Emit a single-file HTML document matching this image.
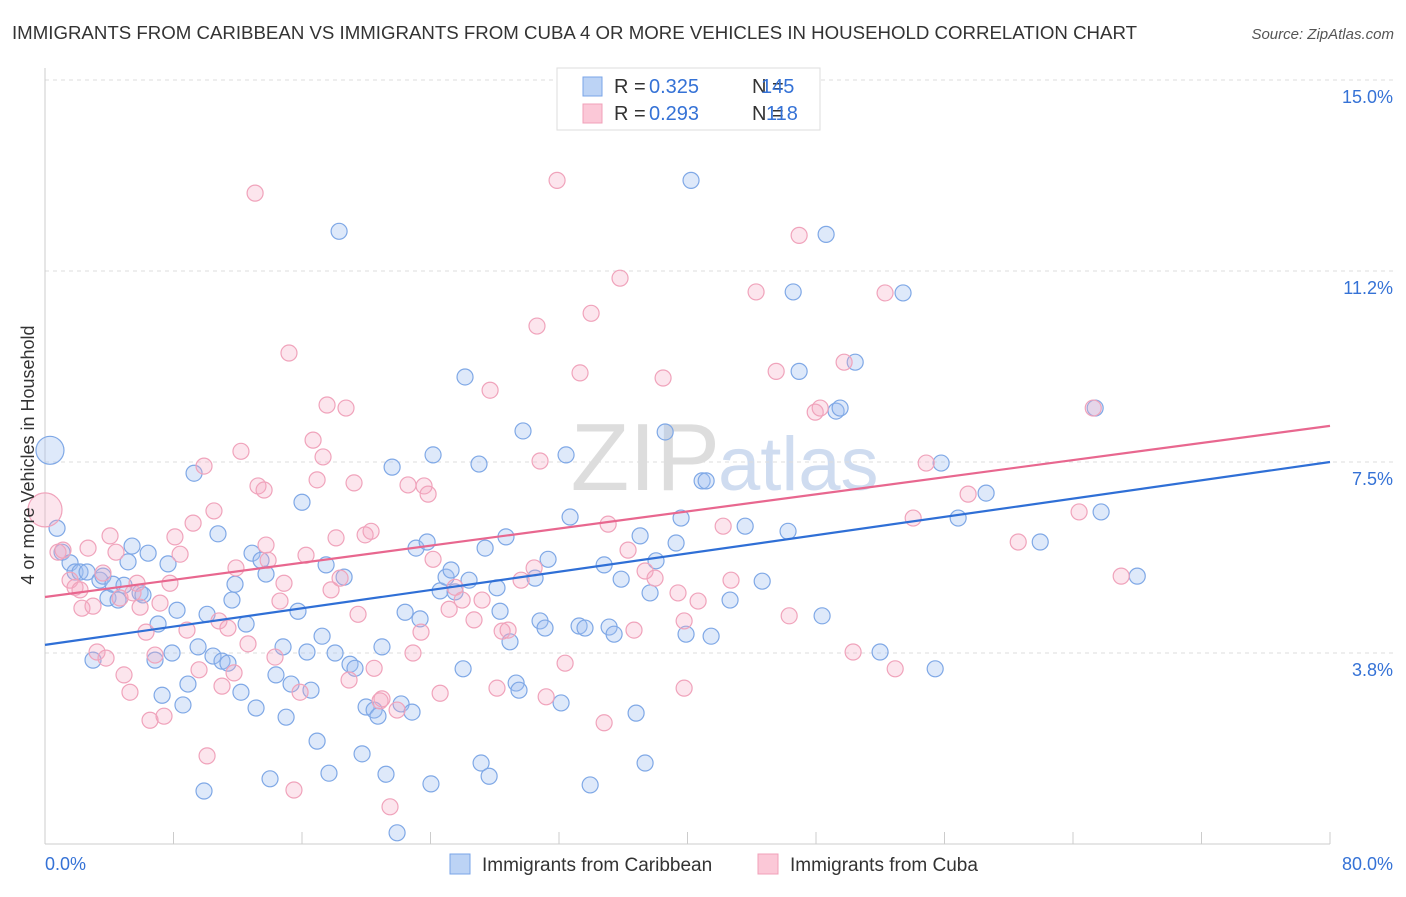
<!DOCTYPE html>
<html><head><meta charset="utf-8"><style>
body{margin:0;background:#fff;font-family:"Liberation Sans",sans-serif}
#wrap{position:relative;width:1406px;height:892px}
svg text{font-family:"Liberation Sans",sans-serif}
</style></head><body>
<div id="wrap">
<svg id="chart" width="1406" height="892">
<text x="12" y="39" font-size="18" fill="#333" textLength="1125" lengthAdjust="spacingAndGlyphs">IMMIGRANTS FROM CARIBBEAN VS IMMIGRANTS FROM CUBA 4 OR MORE VEHICLES IN HOUSEHOLD CORRELATION CHART</text>
<text x="1394" y="39" font-size="15" fill="#555" text-anchor="end" font-style="italic">Source: ZipAtlas.com</text>
<text x="720" y="490" font-size="96" fill="#ddd" text-anchor="end" font-family="Liberation Serif">ZIP</text>
<text x="718" y="490" font-size="76" fill="#cfdcf0">atlas</text>
<g id="grid"></g><g id="pts"></g><g id="trend"></g>
<text transform="translate(34,455) rotate(-90)" font-size="18" fill="#333" text-anchor="middle">4 or more Vehicles in Household</text>
<g>
<rect x="557" y="68" width="263" height="62" fill="#fff" stroke="#ddd"/>
<rect x="583" y="77" width="19" height="19" fill="#bcd3f5" stroke="#7aa5e8"/>
<rect x="583" y="104" width="19" height="19" fill="#fbc8d7" stroke="#f0a0b8"/>
<text x="614" y="93" font-size="20" fill="#333">R =</text>
<text x="649" y="93" font-size="20" fill="#3572d6">0.325</text>
<text x="752" y="93" font-size="20" fill="#333">N =</text>
<text x="761" y="93" font-size="20" fill="#3572d6">145</text>
<text x="614" y="120" font-size="20" fill="#333">R =</text>
<text x="649" y="120" font-size="20" fill="#3572d6">0.293</text>
<text x="752" y="120" font-size="20" fill="#333">N =</text>
<text x="766" y="120" font-size="20" fill="#3572d6">118</text>
</g>
<g>
<rect x="450" y="854" width="20" height="20" fill="#bcd3f5" stroke="#7aa5e8"/>
<text x="482" y="871" font-size="19" fill="#333">Immigrants from Caribbean</text>
<rect x="758" y="854" width="20" height="20" fill="#fbc8d7" stroke="#f0a0b8"/>
<text x="790" y="871" font-size="19" fill="#333">Immigrants from Cuba</text>
</g>
</svg></div>
<script>
const blueX=[0.31,0.75,1.06,1.56,1.87,2.18,2.62,2.99,3.42,3.61,3.92,4.23,4.55,4.92,5.17,5.42,5.92,6.10,6.42,6.85,7.04,7.29,7.66,7.91,8.22,8.59,8.90,9.28,9.53,9.90,10.09,10.46,10.77,11.02,11.39,11.64,11.83,12.20,12.52,12.89,13.14,13.45,13.76,14.01,14.38,14.82,15.01,15.32,15.75,16.00,16.31,16.56,16.94,17.25,17.50,17.68,18.06,18.31,18.62,18.99,19.30,19.74,19.99,20.49,20.73,20.98,21.23,21.61,21.92,22.17,22.42,22.85,23.10,23.35,23.79,24.03,24.16,24.60,24.97,25.28,25.53,26.03,26.15,26.40,27.02,27.15,27.40,27.65,28.14,28.33,28.70,28.95,29.33,29.51,29.76,30.51,30.82,31.13,31.32,32.13,32.44,32.69,33.25,33.62,33.94,34.81,35.12,35.43,35.87,36.80,37.05,37.36,37.67,38.04,38.61,39.29,39.60,39.91,40.22,40.91,41.16,41.47,42.65,43.59,44.65,46.26,46.58,46.95,48.38,48.63,49.25,49.50,50.44,51.99,53.42,55.42,55.79,56.85,58.59,61.96,65.38,65.75,68.00];
const blueY=[7.73,6.20,5.73,5.52,5.34,5.34,5.34,3.61,5.18,5.26,4.83,5.10,4.79,5.08,5.54,5.85,4.93,4.89,5.71,3.61,4.32,2.92,5.50,3.75,4.59,2.73,3.14,7.28,3.87,1.04,4.51,3.69,6.09,3.59,3.55,4.79,5.10,2.98,4.32,5.71,2.67,5.57,5.30,1.28,3.32,3.87,2.49,3.14,4.57,6.71,3.77,3.02,2.02,4.08,5.48,1.39,3.75,12.03,5.24,3.53,3.45,1.77,2.69,2.63,2.51,3.87,1.37,7.40,0.22,2.75,4.55,2.59,5.81,4.42,5.93,1.18,7.64,4.97,5.24,5.38,4.95,3.44,9.17,5.18,7.46,1.59,5.81,1.33,5.03,4.57,6.03,3.97,3.16,3.02,8.11,5.22,4.38,4.24,5.59,2.77,7.64,6.42,4.28,4.24,1.16,5.48,4.26,4.12,5.20,2.57,6.05,1.59,4.93,5.56,8.09,5.91,6.40,4.12,13.03,7.13,7.13,4.08,4.79,6.24,5.16,6.14,10.84,9.28,4.48,11.97,8.50,8.56,9.46,3.77,10.82,3.44,7.48,6.40,6.89,5.93,8.56,6.52,5.26];
const pinkX=[0,0.81,1.12,1.56,1.87,2.18,2.30,2.68,2.99,3.24,3.61,3.80,4.05,4.42,4.67,4.92,5.29,5.48,5.73,5.92,6.29,6.54,6.85,7.16,7.41,7.78,8.09,8.41,8.84,9.22,9.59,9.90,10.09,10.52,10.83,11.02,11.39,11.77,11.89,12.20,12.64,13.08,13.26,13.64,13.76,13.89,14.32,14.63,14.88,15.19,15.50,15.88,16.25,16.69,16.94,17.31,17.56,17.81,18.12,18.37,18.74,18.93,19.24,19.49,19.93,20.30,20.49,20.86,20.98,21.48,21.92,22.60,22.91,23.41,23.60,23.85,24.16,24.60,25.16,25.53,25.97,26.71,27.21,27.71,28.14,28.46,28.83,29.64,30.45,30.63,30.82,31.20,31.88,32.38,33.31,34.00,34.81,35.06,35.80,36.30,36.67,37.36,37.98,38.48,39.41,39.79,39.79,40.66,42.22,42.71,44.27,45.52,46.33,46.95,47.95,48.26,49.75,50.31,52.30,52.93,54.05,54.86,57.47,60.59,64.38,65.26,67.00];
const pinkY=[6.56,5.73,5.77,5.18,5.04,4.99,4.63,5.81,4.67,3.77,5.32,3.65,6.05,5.73,4.83,3.32,2.98,4.93,5.12,4.65,4.16,2.43,3.71,4.73,2.51,5.12,6.03,5.69,4.20,6.30,3.42,7.42,1.73,6.54,4.38,3.10,4.24,3.36,5.42,7.71,3.93,12.78,7.03,6.95,5.87,5.57,3.67,4.77,5.12,9.64,1.06,2.98,5.67,7.93,7.15,7.60,8.62,4.99,6.01,5.22,8.56,3.22,7.09,4.51,6.07,6.14,3.45,2.81,2.85,0.73,2.63,7.05,3.75,4.16,7.03,6.87,5.59,2.96,4.61,5.04,4.79,4.40,4.79,8.91,3.06,4.18,4.20,5.18,5.42,10.17,7.52,2.89,13.03,3.55,9.25,10.42,2.38,6.28,11.11,5.77,4.20,5.36,5.22,9.15,4.93,4.38,3.06,4.77,6.24,5.18,10.84,9.28,4.48,11.95,8.48,8.56,9.46,3.77,10.82,3.44,6.40,7.48,6.87,5.93,6.52,8.56,5.26];
const blueTrend=[3.91,7.5];
const pinkTrend=[4.85,8.21];
const yTicks=[3.75,7.5,11.25,15];
const yTickLabels=["3.8%","7.5%","11.2%","15.0%"];
const xTicks=[0,8,16,24,32,40,48,56,64,72,80];
const NS="http://www.w3.org/2000/svg";
const X=v=>45+v/80*1285, Y=v=>844-v*50.93;
function mk(tag,at,parent){const e=document.createElementNS(NS,tag);for(const k in at)e.setAttribute(k,at[k]);parent.appendChild(e);return e;}
const grid=document.getElementById('grid'),pts=document.getElementById('pts'),tr=document.getElementById('trend');
yTicks.forEach((t,i)=>{
 const l=mk('line',{x1:45,x2:1394,y1:Y(t),y2:Y(t),stroke:'#ddd','stroke-dasharray':'4 4'},grid);
 
 
 const tx=mk('text',{x:1393,y:Y(t)+23,'font-size':18,fill:'#3572d6','text-anchor':'end'},grid);
 tx.textContent=yTickLabels[i];
 
 
});
const ax=mk('line',{x1:45,x2:1330,y1:844,y2:844,stroke:'#ccc'},grid);


const ay=mk('line',{x1:45,x2:45,y1:68,y2:844,stroke:'#ccc'},grid);


xTicks.forEach(t=>{const l=mk('line',{x1:X(t),x2:X(t),y1:832,y2:844,stroke:'#ccc'},grid);
 
 });
const xl0=mk('text',{x:45,y:870,'font-size':18,fill:'#3572d6'},grid);xl0.textContent='0.0%';


const xl1=mk('text',{x:1393,y:870,'font-size':18,fill:'#3572d6','text-anchor':'end'},grid);xl1.textContent='80.0%';


function draw(xs,ys,fill,stroke,name){xs.forEach((x,i)=>{
 const r=i===0?(name==='cuba-point'?17:14):8;
 const c=mk('circle',{cx:X(x),cy:Y(ys[i]),r:r,fill:fill,stroke:stroke,'stroke-width':1.2},pts);
 
 });}
draw(blueX,blueY,'rgba(160,192,240,0.35)','#7fa8e6','caribbean-point');
draw(pinkX,pinkY,'rgba(245,170,195,0.3)','#f0a3bb','cuba-point');
const bt=mk('line',{x1:X(0),y1:Y(blueTrend[0]),x2:X(80),y2:Y(blueTrend[1]),stroke:'#2f6fd6','stroke-width':2.2},tr);


const pt=mk('line',{x1:X(0),y1:Y(pinkTrend[0]),x2:X(80),y2:Y(pinkTrend[1]),stroke:'#e8678f','stroke-width':2.2},tr);


</script>
</body></html>
